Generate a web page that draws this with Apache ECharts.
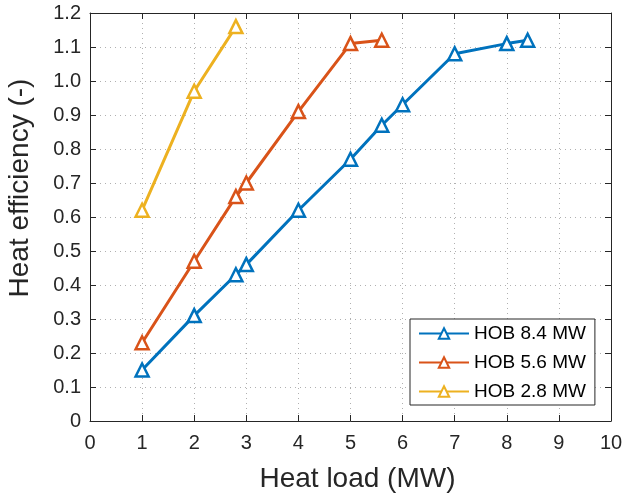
<!DOCTYPE html>
<html>
<head>
<meta charset="utf-8">
<script src="https://cdn.jsdelivr.net/npm/echarts@6/dist/echarts.min.js"></script>
<style>
html, body { margin: 0; padding: 0; background: #fff; }
#container { width: 624px; height: 494px; }
</style>
</head>
<body>
<div id="container"></div>
<script>
var loadBig = [1, 2, 2.8, 3, 4, 5, 5.6, 6, 7, 8, 8.4];
var effBig = [0.15, 0.31, 0.43, 0.46, 0.62, 0.77, 0.87, 0.93, 1.08, 1.11, 1.12];
var loadMid = [1, 2, 2.8, 3, 4, 5, 5.6];
var effMid = [0.23, 0.47, 0.66, 0.70, 0.91, 1.11, 1.12];
var loadSmall = [1, 2, 2.8];
var effSmall = [0.62, 0.97, 1.16];
var seriesNames = ['HOB 8.4 MW', 'HOB 5.6 MW', 'HOB 2.8 MW'];
var colors = ['#0072BD', '#D95319', '#EDB120'];

function pairs(xs, ys) {
    return xs.map(function (x, i) { return [x, ys[i]]; });
}

var dom = document.getElementById("container");
var myChart = echarts.init(dom);

var font = 'Liberation Sans, Arial, Helvetica, sans-serif';
var axisLine = { show: true, onZero: false, lineStyle: { color: '#262626', width: 1 } };
var tick = { show: true, inside: true, length: 6, lineStyle: { color: '#262626' } };
var grid = { show: true, lineStyle: { color: '#b0b0b0', type: [1, 4], width: 1 } };

function makeSeries(name, data, color) {
    return {
        name: name,
        type: 'line',
        data: data,
        symbol: 'triangle',
        symbolSize: 13,
        showAllSymbol: true,
        color: color,
        lineStyle: { color: color, width: 3 },
        itemStyle: { color: '#fff', borderColor: color, borderWidth: 2.5 }
    };
}

option = {
    animation: false,
    color: colors,
    grid: { left: 90, right: 13, top: 13, bottom: 73, outerBoundsMode: 'none', containLabel: false },
    legend: {
        data: seriesNames,
        orient: 'vertical',
        left: 410,
        top: 319,
        backgroundColor: '#fff',
        borderColor: '#262626',
        borderWidth: 1,
        borderRadius: 0,
        padding: [5, 9, 4, 8],
        itemGap: 10,
        itemWidth: 50,
        itemHeight: 13,
        textStyle: { fontFamily: font, fontSize: 19, color: '#000' }
    },
    xAxis: [
        {
            type: 'value',
            min: 0, max: 10, interval: 1,
            name: 'Heat load (MW)',
            nameLocation: 'middle',
            nameGap: 44,
            nameTextStyle: { fontFamily: font, fontSize: 28, color: '#262626', padding: [0, 0, 0, 14] },
            axisLine: axisLine,
            axisTick: tick,
            splitLine: grid,
            axisLabel: { fontFamily: font, fontSize: 20, color: '#262626', margin: 12 }
        },
        {
            type: 'value', position: 'top',
            min: 0, max: 10, interval: 1,
            axisLine: axisLine, axisTick: tick,
            axisLabel: { show: false }, splitLine: { show: false }
        }
    ],
    yAxis: [
        {
            type: 'value',
            min: 0, max: 1.2, interval: 0.1,
            name: 'Heat efficiency (-)',
            nameLocation: 'middle',
            nameGap: 56,
            nameTextStyle: { fontFamily: font, fontSize: 28, color: '#262626', padding: [0, 0, 0, 58] },
            axisLine: axisLine,
            axisTick: tick,
            splitLine: grid,
            axisLabel: {
                fontFamily: font, fontSize: 20, color: '#262626', margin: 9,
                formatter: function (v) { return v === 0 ? '0' : v.toFixed(1); }
            }
        },
        {
            type: 'value', position: 'right',
            min: 0, max: 1.2, interval: 0.1,
            axisLine: axisLine, axisTick: tick,
            axisLabel: { show: false }, splitLine: { show: false }
        }
    ],
    series: [
        makeSeries(seriesNames[0], pairs(loadBig, effBig), colors[0]),
        makeSeries(seriesNames[1], pairs(loadMid, effMid), colors[1]),
        makeSeries(seriesNames[2], pairs(loadSmall, effSmall), colors[2])
    ]
};

if (option && typeof option === "object") {
    myChart.setOption(option, true);
}
</script>
</body>
</html>
